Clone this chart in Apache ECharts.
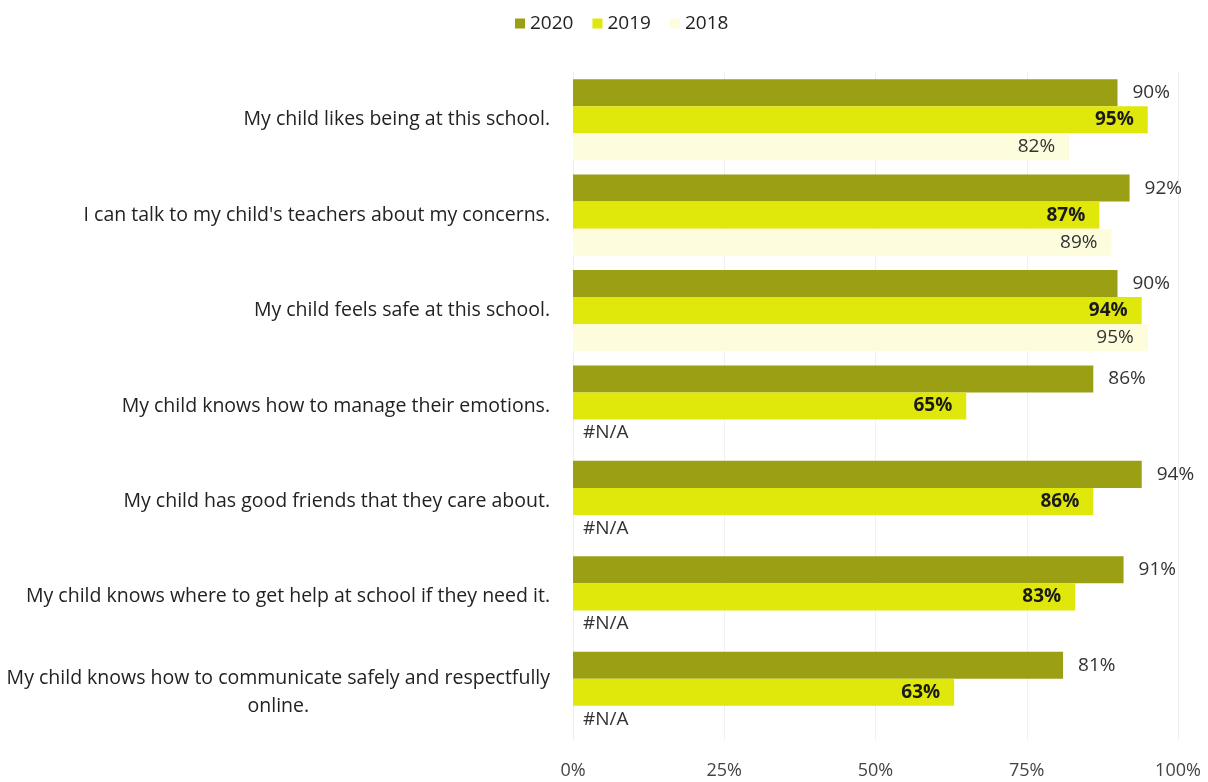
<!DOCTYPE html>
<html><head><meta charset="utf-8">
<script src="https://cdn.jsdelivr.net/npm/echarts@6/dist/echarts.min.js"></script>
<style>html,body{margin:0;padding:0;background:#fff}#c{width:1208px;height:782px}</style>
</head><body><div id="c"></div>
<script>
const categories = [
  "My child likes being at this school.",
  "I can talk to my child's teachers about my concerns.",
  "My child feels safe at this school.",
  "My child knows how to manage their emotions.",
  "My child has good friends that they care about.",
  "My child knows where to get help at school if they need it.",
  "My child knows how to communicate safely and respectfully\nonline."
];
const seriesNames = ["2020", "2019", "2018"];
const values2020 = [90, 92, 90, 86, 94, 91, 81];
const values2019 = [95, 87, 94, 65, 86, 83, 63];
const values2018 = [82, 89, 95, null, null, null, null];
const xTicks = [0, 25, 50, 75, 100];

const FONT = '"Open Sans", "Noto Sans", sans-serif';
const colors = ['#9a9f14', '#e0e70b', '#fdfddd'];

const cats = categories.slice().reverse();
const rev = a => a.slice().reverse();

const d2018 = rev(values2018).map(v => v == null
  ? {value: 0, label: {show: true, formatter: '#N/A', position: 'right', distance: 10, fontWeight: 'normal'}}
  : v);

const chart = echarts.init(document.getElementById('c'));
chart.setOption({
  animation: false,
  color: colors,
  textStyle: {fontFamily: FONT},
  legend: {
    data: seriesNames,
    top: 9, left: 510,
    itemWidth: 10, itemHeight: 10, itemGap: 19,
    icon: 'rect',
    textStyle: {fontSize: 19, color: '#222', fontFamily: FONT}
  },
  grid: {left: 573, right: 30, top: 72, bottom: 42, containLabel: false},
  xAxis: {
    type: 'value', min: 0, max: 100, interval: 25,
    axisLabel: {formatter: v => xTicks.includes(v) ? v + '%' : '', fontSize: 18, color: '#444', margin: 22, fontFamily: FONT},
    splitLine: {show: true, lineStyle: {color: '#f0f0f0', width: 1}},
    axisLine: {show: false}, axisTick: {show: false}
  },
  yAxis: {
    type: 'category', data: cats,
    axisLine: {show: true, lineStyle: {color: '#eeeeee'}},
    axisTick: {show: false},
    axisLabel: {
      fontSize: 19.5, color: '#222', margin: 23, fontFamily: FONT, lineHeight: 28,
      formatter: v => v.indexOf('\n') >= 0 ? v.split('\n').map(s => '{c|' + s + '}').join('\n') : v,
      rich: {c: {align: 'center', fontSize: 19.5, color: '#222', fontFamily: FONT, lineHeight: 28}}
    }
  },
  series: [
    {
      name: seriesNames[0], type: 'bar', data: rev(values2020),
      barGap: '0%', barCategoryGap: '15%',
      label: {show: true, position: 'right', distance: 15, formatter: '{c}%', fontSize: 19, color: '#333', fontFamily: FONT}
    },
    {
      name: seriesNames[1], type: 'bar', data: rev(values2019),
      barGap: '0%', barCategoryGap: '15%',
      label: {show: true, position: 'insideRight', distance: 14, formatter: '{c}%', fontSize: 19, color: '#1a1a1a', fontWeight: 'bold', fontFamily: FONT}
    },
    {
      name: seriesNames[2], type: 'bar', data: d2018,
      barGap: '0%', barCategoryGap: '15%',
      label: {show: true, position: 'insideRight', distance: 14, formatter: '{c}%', fontSize: 19, color: '#333', fontFamily: FONT}
    }
  ]
});
</script>
</body></html>
